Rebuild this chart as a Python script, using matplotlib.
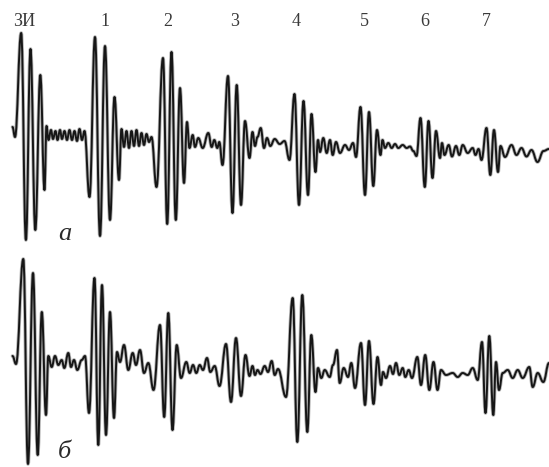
import matplotlib
matplotlib.use("Agg")
import matplotlib.pyplot as plt
from matplotlib.path import Path
from matplotlib.patches import PathPatch

# Extrema of the upper oscillogram "а" (time in sweep px, deflection in px, downward)
t_a = [12.5, 15,
       21.2, 25.9, 30.5, 35.3, 40.3, 44.5,
       46.5, 48.5, 51, 53, 55.5, 57.5, 60, 62, 64.5, 67, 69.5, 72, 74.5, 77, 79.5, 82, 84.5,
       89.5, 95, 100, 105, 110, 114.5, 119,
       121.5, 124, 126.5, 129, 131.5, 134, 136.5, 139, 141.5, 144, 146.5, 149, 151.5,
       156.5, 163, 167.2, 171.5, 175.8, 180, 184,
       187, 189.5, 192.7, 195, 198.3, 202.7, 208.3, 211.7, 214.3, 217.3, 219.3,
       222.5, 228, 232.5, 236.7, 241, 245, 249.5,
       252.5, 255, 257.5, 260.7, 264, 267, 270.3, 274.7, 279.7, 284.5,
       289.5, 294.5, 299, 303.5, 308, 311.5, 315.5,
       318, 320, 323.3, 326.7, 330, 332.7, 336, 340, 345, 349, 353,
       356, 360.5, 365, 369, 373.3, 377, 380.5,
       382.5, 385, 388.3, 391.7, 395, 398.3, 402.7, 406.7, 410, 413.3,
       416.5, 420.5, 424.8, 428.5, 432.5, 436, 440,
       442, 444.5, 448.7, 452, 456, 459.3, 462.7, 467.7, 472.7, 475.5, 478.5,
       481.5, 486.5, 490.3, 494, 498,
       500.5, 505, 511.5, 516.5, 521.5, 526.5, 531.5, 537.5, 543.5, 549]
v_a = [127, 137,
       33, 240, 49, 230, 75, 190,
       126, 140, 130, 139, 131, 140, 130, 139, 131, 140, 130, 140, 131, 141, 129, 140, 131,
       197, 37, 236, 46, 220, 97, 180,
       129, 147, 131, 148, 131, 146, 130, 146, 133, 145, 134, 142, 137,
       187, 58, 224, 52, 220, 88, 183,
       122, 148, 135, 147, 138, 148, 133, 147, 140, 148, 142,
       165, 76, 213, 85, 205, 121, 158,
       132, 146, 137, 128, 148, 138, 146, 139, 144, 141,
       160, 94, 205, 101, 195, 114, 172,
       140, 152, 138, 153, 140, 155, 142, 153, 145, 150, 143,
       157, 107, 195, 112, 186, 130, 155,
       140, 148, 143, 148, 144, 148, 145, 148, 146.5, 151,
       156, 118, 187, 121, 178, 131, 158,
       143, 155, 145, 156.5, 146, 155, 145, 153, 148, 155, 149,
       160, 128, 175, 130, 172,
       146, 157, 145, 155, 148, 156.5, 150, 162, 151, 149]

# Extrema of the lower oscillogram "б"
t_b = [12.5, 16,
       23.3, 28, 33, 37.7, 41.8, 46,
       48.3, 51.7, 55, 58.3, 61.7, 64.3, 68.3, 71, 74, 77.3, 81.7, 85,
       89, 94.5, 98.3, 102, 106, 110, 114,
       117, 120, 124, 128.3, 132.7, 136, 140, 144, 148.3,
       153.5, 160, 164.2, 168.3, 172.5, 176.7, 181,
       186.3, 189.7, 193, 196.3, 199.7, 203, 207, 210.3, 214.7,
       219.5, 226, 231, 236, 241, 245.5, 249.5,
       252.5, 255, 257.5, 260.5, 264.7, 268, 271.7, 274.7, 278,
       286, 292.7, 297.3, 302.3, 307.3, 311.3, 315.5,
       318, 321.3, 324.7, 329.7, 333, 337, 339.7, 343.7, 348, 351.3,
       355, 361, 365, 369, 373.5, 377.5, 381,
       383, 386, 390, 393, 396, 399.3, 402.7, 405.3, 408.7, 412,
       417.3, 421, 425.2, 429.3, 433.5, 437.5,
       441, 446, 452.7, 457.7, 462.7, 467.7, 472.7, 477.7,
       482, 485.5, 489.3, 493.3, 496, 499,
       502.7, 507.7, 512.7, 517.7, 522.7, 529.3, 532.7, 537.7, 543.3, 549]
v_b = [356, 364,
       259, 464, 273, 455, 312, 415,
       356, 367, 356, 365, 360, 368, 353, 367, 360, 370, 360, 356,
       413, 278, 445, 285, 435, 312, 418,
       352, 362, 345, 370, 353, 365, 350, 373, 363,
       390, 325, 417, 313, 430, 345, 378,
       362, 373, 365, 373, 365, 370, 358, 372, 366,
       386, 344, 402, 338, 396, 355, 376,
       366, 375, 370, 374, 366, 372, 361, 375, 369,
       397, 298, 442, 295, 432, 335, 392,
       368, 378, 370, 377, 365, 350, 383, 368, 377, 363,
       388, 343, 405, 341, 404, 357, 385,
       372, 378, 366, 374, 363, 375, 368, 377, 370, 378,
       357, 385, 355, 390, 362, 390,
       370, 375, 373, 377, 373, 375, 368, 380,
       342, 413, 336, 415, 362, 390,
       373, 370, 378, 370, 378, 367, 387, 373, 382, 363]

pulse_labels = ["ЗИ", "1", "2", "3", "4", "5", "6", "7"]
pulse_label_t = [24, 105, 167.5, 234.5, 296, 364, 425, 486]
trace_names = ["а", "б"]
trace_name_pos = [(65, 234), (64, 452)]


def trace_path(t, v, k=0.42):
    # smooth curve through the extrema, flat tangent at every turning point
    verts = [(t[0], v[0])]
    codes = [Path.MOVETO]
    for i in range(len(t) - 1):
        dx = t[i + 1] - t[i]
        verts += [(t[i] + k * dx, v[i]), (t[i + 1] - k * dx, v[i + 1]), (t[i + 1], v[i + 1])]
        codes += [Path.CURVE4] * 3
    return Path(verts, codes)


fig = plt.figure(figsize=(5.49, 4.67), dpi=100)
ax = fig.add_axes([0, 0, 1, 1])
ax.set_xlim(0, 549)
ax.set_ylim(467, 0)
ax.axis("off")

for t, v in [(t_a, v_a), (t_b, v_b)]:
    p = trace_path(t, v)
    # soft grey halo of the photographed beam, then the dark trace itself
    ax.add_patch(PathPatch(p, fill=False, edgecolor="#b4b4b4", lw=2.6,
                           joinstyle="round", capstyle="round"))
    ax.add_patch(PathPatch(p, fill=False, edgecolor="#161616", lw=1.4,
                           joinstyle="round", capstyle="round"))

for lab, x in zip(pulse_labels, pulse_label_t):
    ax.text(x, 22, lab, ha="center", va="center", fontsize=13,
            family="Liberation Serif", color="#3a3a3a")

for lab, (x, y) in zip(trace_names, trace_name_pos):
    ax.text(x, y, lab, ha="center", va="center", fontsize=19, style="italic",
            family="Liberation Serif", color="#2a2a2a")

fig.savefig("out.png", dpi=100)
